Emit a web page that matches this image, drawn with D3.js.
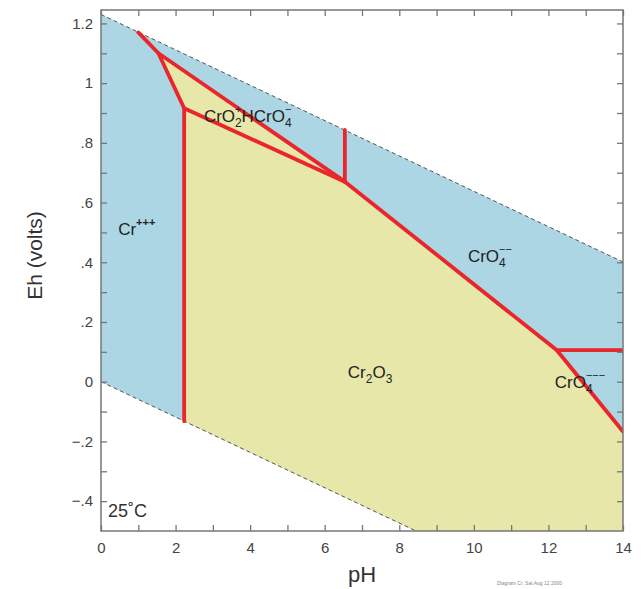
<!DOCTYPE html>
<html>
<head>
<meta charset="utf-8">
<script src="https://cdn.jsdelivr.net/npm/d3@7"></script>
<style>
body { margin: 0; background: #fff; }
text { font-family: "Liberation Sans", Arial, sans-serif; }
</style>
</head>
<body>
<div id="chart"></div>
<script>
// Eh-pH diagram for chromium, 25 C

// water stability limits [pH, Eh]
var waterUpper = [[0, 1.23], [14, 0.401]];
var waterLower = [[0, 0], [8.45, -0.5]];

// fields (clipped to the frame)
var waterField = [[0, 1.23], [14, 0.401], [14, -0.5], [8.45, -0.5], [0, 0]];
var cr2o3Field = [[2.23, -0.132], [8.45, -0.5], [14, -0.5], [14, -0.167],
                  [12.22, 0.106], [6.54, 0.67], [1.54, 1.10], [2.23, 0.916]];

// red boundaries between species
var boundaries = [
    [[1.0, 1.17], [1.54, 1.10], [2.23, 0.916], [2.23, -0.132]],
    [[1.54, 1.10], [6.54, 0.67]],
    [[2.23, 0.916], [6.54, 0.67]],
    [[6.54, 0.67], [6.54, 0.843]],
    [[6.54, 0.67], [12.22, 0.106], [14, -0.167]],
    [[12.22, 0.106], [14, 0.106]]
];

// species labels: anchor [pH, Eh] and text pieces
var speciesAt = [[0.46, 0.491], [2.76, 0.87], [9.84, 0.40], [6.62, 0.012], [12.17, -0.021]];
var speciesText = [
    [["Cr", ""], ["+++", "sup"]],
    [["CrO", ""], ["2", "sub"], ["+", "stack"], ["HCrO", ""], ["4", "sub"], ["\u2212", "stack"]],
    [["CrO", ""], ["4", "sub"], ["\u2212\u2212", "stack"]],
    [["Cr", ""], ["2", "sub"], ["O", ""], ["3", "sub"]],
    [["CrO", ""], ["4", "sub"], ["\u2212\u2212\u2212", "stack"]]
];

var xTicks = d3.range(0, 15, 1);
var yTicks = d3.range(-4, 13, 1).map(function(i) { return i / 10; });

var W = 641, H = 589;
var plot = {left: 101, right: 623, top: 10, bottom: 531};

var x = d3.scaleLinear().domain([0, 14]).range([plot.left, plot.right]);
var y = d3.scaleLinear().domain([-0.5, 1.245]).range([plot.bottom, plot.top]);

var svg = d3.select("#chart").append("svg")
    .attr("width", W)
    .attr("height", H);

svg.append("clipPath").attr("id", "clip")
    .append("rect")
    .attr("x", plot.left).attr("y", plot.top)
    .attr("width", plot.right - plot.left)
    .attr("height", plot.bottom - plot.top);

var line = d3.line()
    .x(function(d) { return x(d[0]); })
    .y(function(d) { return y(d[1]); });

var g = svg.append("g").attr("clip-path", "url(#clip)");

g.append("path")
    .attr("d", line(waterField) + "Z")
    .attr("fill", "#acd6e3");

g.append("path")
    .attr("d", line(cr2o3Field) + "Z")
    .attr("fill", "#e7e7aa");

// water lines, dashed
[waterUpper, waterLower].forEach(function(w) {
    g.append("path")
        .attr("d", line(w))
        .attr("fill", "none")
        .attr("stroke", "#555")
        .attr("stroke-width", 1)
        .attr("stroke-dasharray", "4,3");
});

g.selectAll(".bound")
    .data(boundaries)
    .enter().append("path")
    .attr("class", "bound")
    .attr("d", line)
    .attr("fill", "none")
    .attr("stroke", "#e8262b")
    .attr("stroke-width", 3.8)
    .attr("stroke-linejoin", "round")
    .attr("stroke-linecap", "round");

// species labels
speciesText.forEach(function(parts, i) {
    var t = svg.append("text")
        .attr("x", x(speciesAt[i][0]))
        .attr("y", y(speciesAt[i][1]))
        .attr("font-size", 17)
        .attr("fill", "#222");
    var lastSub = 0;
    parts.forEach(function(p) {
        var ts = t.append("tspan").text(p[0]);
        if (p[1] === "sub") {
            ts.attr("font-size", 12).attr("baseline-shift", -5);
            lastSub = ts.node().getComputedTextLength();
        } else if (p[1] === "sup") {
            ts.attr("font-size", 11).attr("font-weight", "bold").attr("baseline-shift", 9);
        } else if (p[1] === "stack") {
            ts.attr("font-size", 11).attr("baseline-shift", 9).attr("dx", -lastSub);
        }
    });
});

// axes, ticks pointing inward
function fmtEh(d) {
    if (Math.round(d * 10) % 2 !== 0) return "";
    if (Math.abs(d) < 1e-9) return "0";
    var s = d3.format(".1f")(Math.abs(d));
    if (s.slice(-2) === ".0") s = s.slice(0, -2);
    s = s.replace(/^0/, "");
    return (d < 0 ? "\u2212" : "") + s;
}

var xAxis = d3.axisBottom(x).tickValues(xTicks).tickSize(-6).tickPadding(11)
    .tickFormat(function(d) { return d % 2 === 0 ? d : ""; });
var xTop = d3.axisTop(x).tickValues(xTicks).tickSize(-6).tickFormat("");
var yAxis = d3.axisLeft(y).tickValues(yTicks).tickSize(-6).tickPadding(8).tickFormat(fmtEh);
var yRight = d3.axisRight(y).tickValues(yTicks).tickSize(-6).tickFormat("");

function styleAxis(sel) {
    sel.select(".domain").remove();
    sel.selectAll("line").attr("stroke", "#777").attr("stroke-width", 1.3);
    sel.selectAll("text")
        .attr("font-size", 15)
        .attr("fill", "#444")
        .attr("font-family", "Liberation Sans, Arial, sans-serif");
}

svg.append("g").attr("transform", "translate(0," + plot.bottom + ")").call(xAxis).call(styleAxis);
svg.append("g").attr("transform", "translate(0," + plot.top + ")").call(xTop).call(styleAxis);
svg.append("g").attr("transform", "translate(" + plot.left + ",0)").call(yAxis).call(styleAxis);
svg.append("g").attr("transform", "translate(" + plot.right + ",0)").call(yRight).call(styleAxis);

svg.append("rect")
    .attr("x", plot.left).attr("y", plot.top)
    .attr("width", plot.right - plot.left)
    .attr("height", plot.bottom - plot.top)
    .attr("fill", "none")
    .attr("stroke", "#777")
    .attr("stroke-width", 1.5);

// titles
svg.append("text")
    .attr("transform", "translate(42," + ((plot.top + plot.bottom) / 2 - 15) + ")rotate(-90)")
    .attr("text-anchor", "middle")
    .attr("font-size", 21)
    .attr("fill", "#333")
    .text("Eh (volts)");

svg.append("text")
    .attr("x", (plot.left + plot.right) / 2)
    .attr("y", 582)
    .attr("text-anchor", "middle")
    .attr("font-size", 22)
    .attr("fill", "#333")
    .text("pH");

svg.append("text")
    .attr("x", 108)
    .attr("y", 517)
    .attr("font-size", 18)
    .attr("fill", "#333")
    .text("25\u02DAC");

svg.append("text")
    .attr("x", 497)
    .attr("y", 585)
    .attr("font-size", 5)
    .attr("fill", "#888")
    .text("Diagram Cr, Sat Aug 12 2000");
</script>
</body>
</html>
